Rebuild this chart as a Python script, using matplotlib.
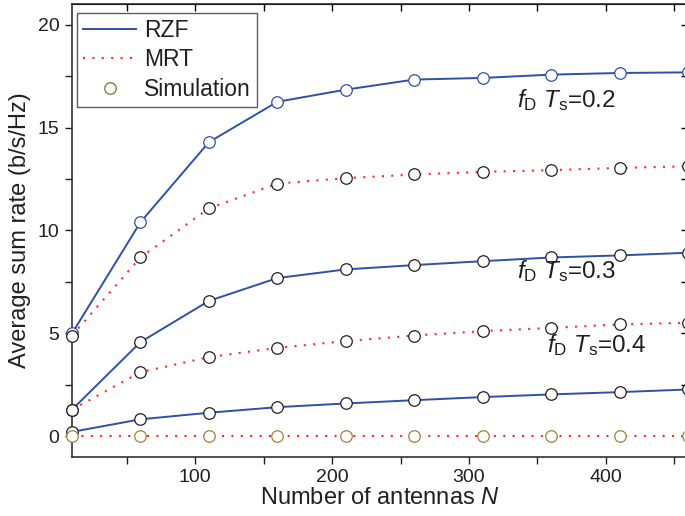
import matplotlib.pyplot as plt
from matplotlib.lines import Line2D
from matplotlib.ticker import MultipleLocator

plt.rcParams['font.family'] = ['Liberation Sans', 'DejaVu Sans']
plt.rcParams['mathtext.fontset'] = 'custom'
plt.rcParams['mathtext.rm'] = 'Liberation Sans'
plt.rcParams['mathtext.it'] = 'Liberation Sans:italic'

antennas = [10, 60, 110, 160, 210, 260, 310, 360, 410, 460]

rzf_02 = [5.0, 10.4, 14.29, 16.25, 16.84, 17.33, 17.41, 17.57, 17.65, 17.68]
mrt_02 = [4.9, 8.69, 11.07, 12.28, 12.54, 12.72, 12.85, 12.93, 13.04, 13.12]
rzf_03 = [1.3, 4.58, 6.58, 7.69, 8.11, 8.32, 8.51, 8.69, 8.79, 8.92]
mrt_03 = [1.3, 3.12, 3.85, 4.30, 4.63, 4.90, 5.11, 5.27, 5.44, 5.52]
rzf_04 = [0.22, 0.83, 1.15, 1.42, 1.60, 1.76, 1.91, 2.04, 2.15, 2.28]
mrt_04 = [0.0, 0.0, 0.0, 0.0, 0.0, 0.0, 0.0, 0.0, 0.0, 0.0]

labels = [(335, 16.0, '0.2'), (335, 7.7, '0.3'), (357, 4.08, '0.4')]

blue = '#2E50A8'
red = '#FF2A2A'
olive = '#A0823C'
dots = (0, (1, 3.5))
ink = '#231F20'

fig = plt.figure(figsize=(6.85, 5.16), dpi=100)
ax = fig.add_axes([72 / 685, 59 / 516, 616 / 685, 453 / 516])

for y in [rzf_02, rzf_03, rzf_04]:
    ax.plot(antennas, y, color=blue, lw=1.4, zorder=2)
for y in [mrt_02, mrt_03, mrt_04]:
    ax.plot(antennas, y, color=red, lw=1.5, ls=dots, zorder=2)

sim = [(rzf_02, blue), (mrt_02, ink), (rzf_03, ink),
       (mrt_03, ink), (rzf_04, ink), (mrt_04, olive)]
for y, c in sim:
    ax.plot(antennas, y, ls='none', marker='o', ms=8.3, mfc='white',
            mec=c, mew=0.9, zorder=3, clip_on=False)

for x, y, v in labels:
    ax.text(x, y, r'$f_{\mathrm{D}}\ T_{\mathrm{s}}$=' + v, fontsize=17.5, color=ink)

ax.set_xlim(10, 460)
ax.set_ylim(-1, 21)
ax.xaxis.set_major_locator(MultipleLocator(100))
ax.xaxis.set_minor_locator(MultipleLocator(50))
ax.yaxis.set_major_locator(MultipleLocator(5))
ax.yaxis.set_minor_locator(MultipleLocator(2.5))
ax.tick_params(which='both', direction='out', length=5, width=1.0,
               labelsize=14, colors=ink, top=False, right=False)
ax.tick_params(axis='both', pad=4)
for s in ax.spines.values():
    s.set_linewidth(1.1)
    s.set_color(ink)

ax2 = ax.secondary_xaxis('top')
ax2.xaxis.set_major_locator(MultipleLocator(50))
ax2.tick_params(direction='in', length=5, width=1.0, labeltop=False)
ax3 = ax.secondary_yaxis('right')
ax3.yaxis.set_major_locator(MultipleLocator(2.5))
ax3.tick_params(direction='in', length=5, width=1.0, labelright=False)

ax.set_xlabel('Number of antennas $N$', fontsize=17, color=ink, labelpad=0)
ax.set_ylabel('Average sum rate (b/s/Hz)', fontsize=17, color=ink, labelpad=5)

handles = [
    Line2D([], [], color=blue, lw=1.4),
    Line2D([], [], color=red, lw=1.5, ls=dots),
    Line2D([], [], ls='none', marker='o', ms=8.3, mfc='white', mec='#7A7A22', mew=0.9),
]
leg = ax.legend(handles, ['RZF', 'MRT', 'Simulation'], loc='upper left',
                bbox_to_anchor=(0.008, 0.981), fontsize=16.5, frameon=True,
                fancybox=False, edgecolor='#333333', handlelength=2.3,
                handletextpad=0.35, labelspacing=0.28, borderpad=0.28,
                borderaxespad=0)
leg.get_frame().set_linewidth(1.0)
for t in leg.get_texts():
    t.set_color(ink)

fig.savefig('out.png', dpi=100)
